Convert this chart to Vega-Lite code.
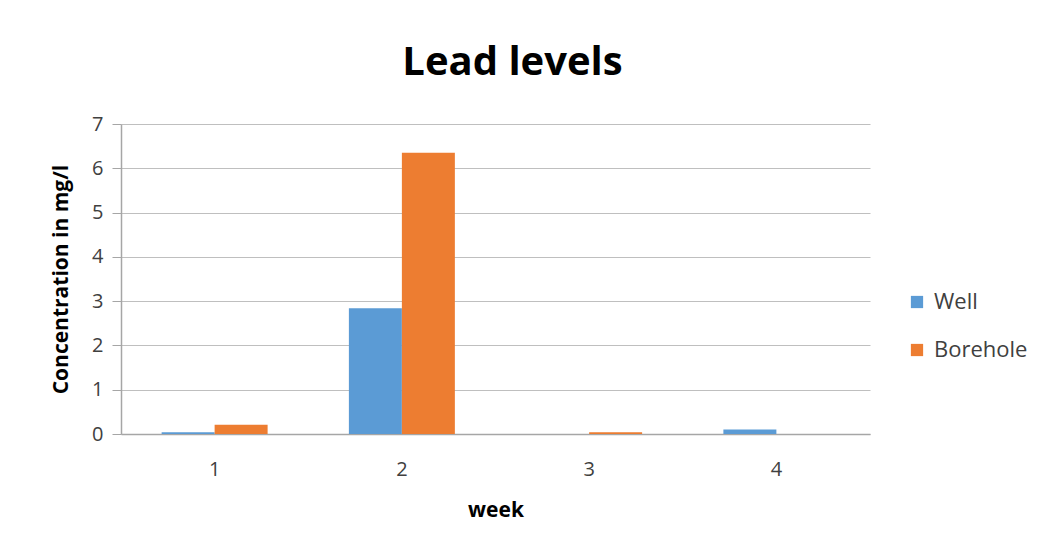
{
  "$schema": "https://vega.github.io/schema/vega-lite/v6.json",
  "width": 749,
  "height": 310,
  "autosize": "none",
  "padding": {"left": 121, "top": 124, "right": 176, "bottom": 119},
  "background": "white",
  "title": {
    "text": "Lead levels",
    "font": "Open Sans",
    "fontSize": 40,
    "fontWeight": "bold",
    "color": "#000000",
    "anchor": "middle",
    "dx": 17,
    "offset": 31
  },
  "data": {
    "values": [
      {"week": "1", "source": "Well", "value": 0.04},
      {"week": "1", "source": "Borehole", "value": 0.21},
      {"week": "2", "source": "Well", "value": 2.84},
      {"week": "2", "source": "Borehole", "value": 6.35},
      {"week": "3", "source": "Well", "value": 0.0},
      {"week": "3", "source": "Borehole", "value": 0.04},
      {"week": "4", "source": "Well", "value": 0.1},
      {"week": "4", "source": "Borehole", "value": 0.0}
    ]
  },
  "mark": {"type": "bar"},
  "encoding": {
    "x": {
      "field": "week",
      "type": "nominal",
      "scale": {"paddingInner": 0.434, "paddingOuter": 0.217},
      "axis": {
        "title": "week",
        "labelAngle": 0,
        "ticks": false,
        "labelPadding": 25,
        "titlePadding": 20,
        "domainColor": "#A6A6A6",
        "domainWidth": 1.5
      }
    },
    "xOffset": {
      "field": "source",
      "type": "nominal",
      "sort": ["Well", "Borehole"],
      "scale": {"paddingInner": 0, "paddingOuter": 0}
    },
    "y": {
      "field": "value",
      "type": "quantitative",
      "scale": {"domain": [0, 7], "nice": false},
      "axis": {
        "title": "Concentration in mg/l",
        "values": [0, 1, 2, 3, 4, 5, 6, 7],
        "labelOverlap": false,
        "tickSize": 9,
        "labelPadding": 9,
        "titlePadding": 20,
        "domainColor": "#A6A6A6",
        "tickColor": "#A6A6A6",
        "gridColor": "#BFBFBF",
        "domainWidth": 1.5
      }
    },
    "color": {
      "field": "source",
      "type": "nominal",
      "sort": ["Well", "Borehole"],
      "scale": {"domain": ["Well", "Borehole"], "range": ["#5B9BD5", "#ED7D31"]},
      "legend": {
        "title": null,
        "orient": "none",
        "legendX": 785,
        "legendY": 167,
        "symbolType": "square",
        "symbolSize": 150,
        "symbolStrokeWidth": 0,
        "rowPadding": 26,
        "labelOffset": 6
      }
    }
  },
  "config": {
    "view": {"stroke": null},
    "axis": {
      "labelFont": "Open Sans",
      "labelFontSize": 20,
      "labelColor": "#404040",
      "titleFont": "Open Sans",
      "titleFontSize": 21,
      "titleFontWeight": "bold",
      "titleColor": "#000000",
      "grid": true
    },
    "axisX": {"grid": false},
    "legend": {
      "labelFont": "Open Sans",
      "labelFontSize": 22,
      "labelColor": "#404040"
    }
  }
}
